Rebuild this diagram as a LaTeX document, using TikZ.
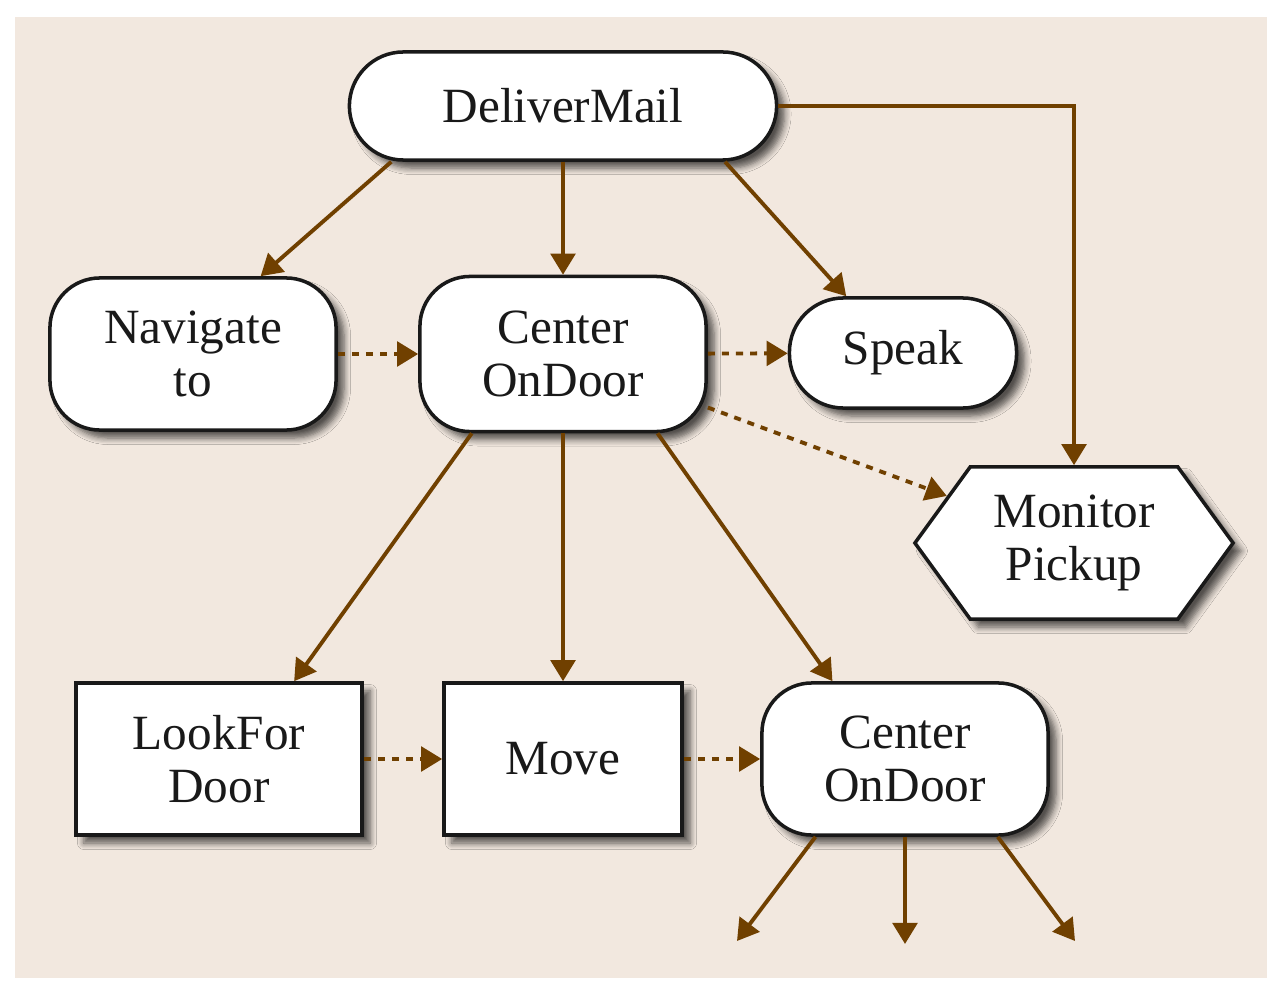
\documentclass[tikz,border=0pt]{standalone}
\usepackage{fontspec}
\setmainfont{Liberation Serif}
\usetikzlibrary{arrows.meta,shapes.symbols,shadows.blur,positioning}
\definecolor{bgtan}{RGB}{242,232,223}
\definecolor{linkbrown}{RGB}{112,64,0}

\begin{document}
\begin{tikzpicture}[
    x=0.01cm, y=-0.01cm,
    font=\fontsize{14}{15}\selectfont, >={Triangle[length=6pt,width=7pt]},
    task/.style={draw=black!90, line width=1pt, fill=white, text=black!90, align=center, inner sep=0pt,
        blur shadow={shadow xshift=0.08cm, shadow yshift=-0.08cm, shadow blur steps=6, shadow opacity=65}},
    pill/.style={task, rectangle, rounded corners=0.54cm, minimum height=1.08cm},
    soft/.style={task, rectangle, rounded corners=0.5cm, minimum width=2.86cm, minimum height=1.52cm},
    plain/.style={task, rectangle, minimum height=1.52cm},
    link/.style={->, draw=linkbrown, line width=1.1pt},
    seq/.style={link, dash pattern=on 2pt off 2pt}
]
    \useasboundingbox (0,0) rectangle (1282,994);
    \fill[bgtan] (15,17) rectangle (1267,978);

    \node[pill, minimum width=4.27cm] (mail) at (563,106) {DeliverMail};
    \node[soft] (nav) at (193,354) {Navigate\\to};
    \node[soft, minimum height=1.55cm] (center) at (563,354) {Center\\OnDoor};
    \node[pill, minimum width=2.27cm, minimum height=1.1cm] (speak) at (903,353) {Speak};
    \node[task, signal, signal to=west and east, signal pointer angle=108,
        minimum width=3.18cm, minimum height=1.52cm] (monitor) at (1074,543) {Monitor\\Pickup};
    \node[plain, minimum width=2.86cm] (look) at (219,759) {LookFor\\Door};
    \node[plain, minimum width=2.38cm] (move) at (563,759) {Move};
    \node[soft] (center2) at (905,759) {Center\\OnDoor};
    \coordinate (out1) at (737,941);
    \coordinate (out2) at (905,944);
    \coordinate (out3) at (1075,941);

    \draw[link] (mail.-162) -- (nav.49);
    \draw[link] (mail.south) -- (center.north);
    \draw[link] (mail.-19) -- (speak.135);
    \draw[link] (mail.east) -| (monitor.north);
    \draw[seq] (nav) -- (center);
    \draw[seq] (center) -- (speak);
    \draw[seq] (center) -- (monitor);
    \draw[link] (center.-139) -- (look.46);
    \draw[link] (center.south) -- (move.north);
    \draw[link] (center.-40) -- (center2.133);
    \draw[seq] (look) -- (move);
    \draw[seq] (move) -- (center2);
    \draw[link] (center2.-139) -- (out1);
    \draw[link] (center2.south) -- (out2);
    \draw[link] (center2.-40) -- (out3);
\end{tikzpicture}
\end{document}
